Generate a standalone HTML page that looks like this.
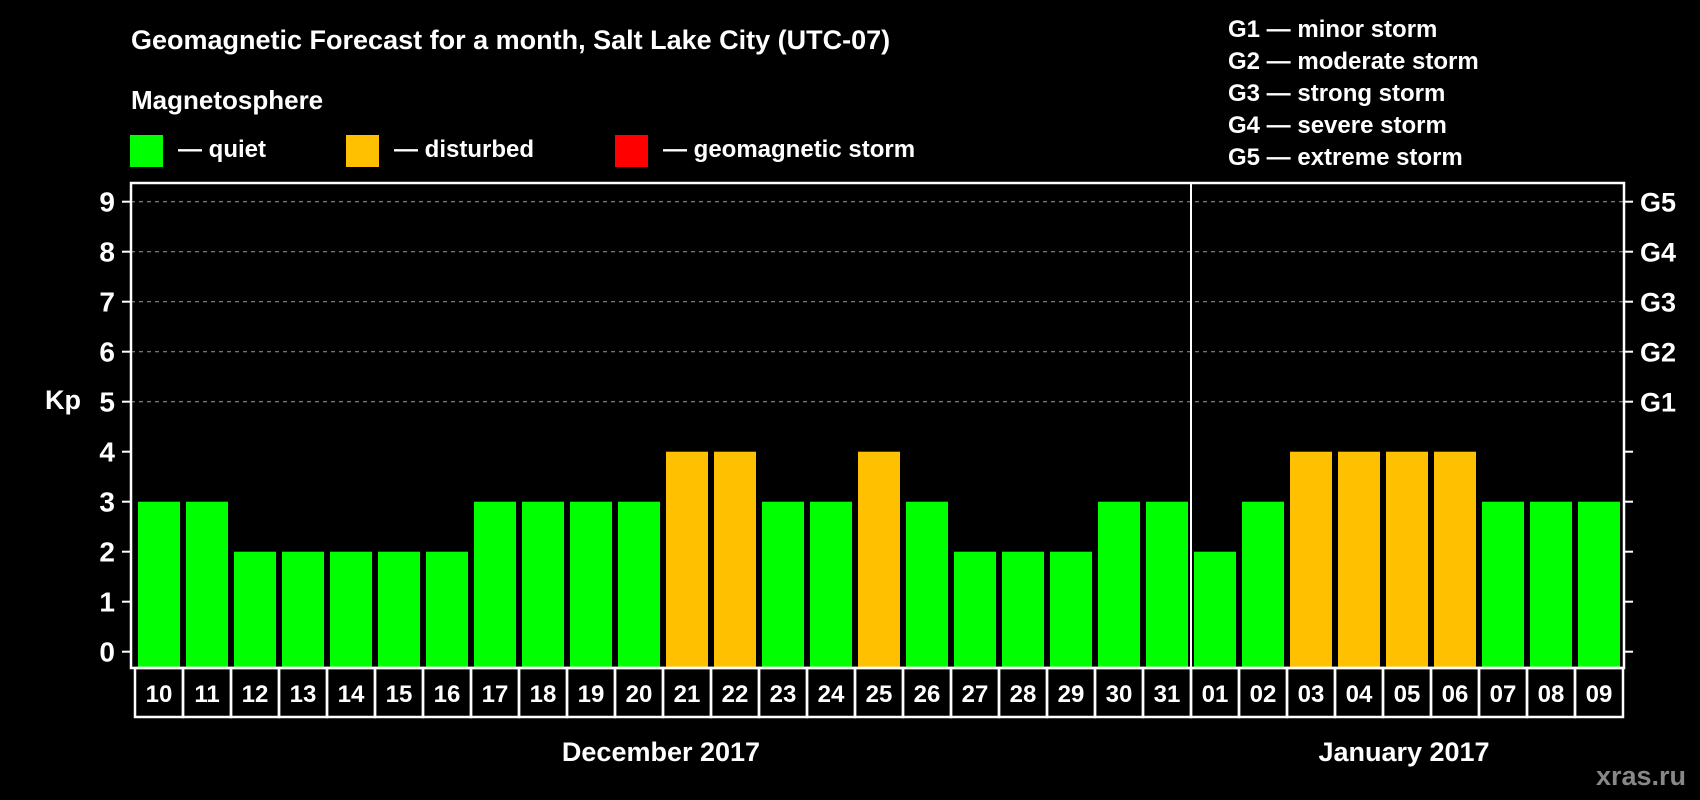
<!DOCTYPE html>
<html><head><meta charset="utf-8"><style>
html,body{margin:0;padding:0;background:#000;}
svg{display:block;font-family:"Liberation Sans",Arial,sans-serif;font-weight:bold;}
</style></head><body>
<svg id="chart" width="1700" height="800" viewBox="0 0 1700 800" xmlns="http://www.w3.org/2000/svg">
<rect width="1700" height="800" fill="#000"/>
<text x="131" y="49" fill="#fff" font-size="27">Geomagnetic Forecast for a month, Salt Lake City (UTC-07)</text>
<text x="131" y="109" fill="#fff" font-size="26">Magnetosphere</text>
<g>
<rect x="130" y="135" width="33" height="32" fill="#00ff00"/>
<text x="178" y="157" fill="#fff" font-size="24">— quiet</text></g>
<g>
<rect x="346" y="135" width="33" height="32" fill="#ffc000"/>
<text x="394" y="157" fill="#fff" font-size="24">— disturbed</text></g>
<g>
<rect x="615" y="135" width="33" height="32" fill="#ff0000"/>
<text x="663" y="157" fill="#fff" font-size="24">— geomagnetic storm</text></g>
<g fill="#fff" font-size="24">
<text x="1228" y="37">G1 — minor storm</text>
<text x="1228" y="69">G2 — moderate storm</text>
<text x="1228" y="101">G3 — strong storm</text>
<text x="1228" y="133">G4 — severe storm</text>
<text x="1228" y="165">G5 — extreme storm</text>
</g>
<text x="63" y="409" fill="#fff" font-size="27" text-anchor="middle">Kp</text>
<g id="grid"></g><g id="bars"></g><g id="axes"></g><g id="dates"></g>
<text x="661" y="761" fill="#fff" font-size="27" text-anchor="middle">December 2017</text>
<text x="1404" y="761" fill="#fff" font-size="27" text-anchor="middle">January 2017</text>
<text x="1686" y="785" fill="#888" font-size="27" text-anchor="end">xras.ru</text>
</svg>
<script>
const days = ["10","11","12","13","14","15","16","17","18","19","20","21","22","23","24","25","26","27","28","29","30","31","01","02","03","04","05","06","07","08","09"];
const kp = [3,3,2,2,2,2,2,3,3,3,3,4,4,3,3,4,3,2,2,2,3,3,2,3,4,4,4,4,3,3,3];
const yTicks = [0,1,2,3,4,5,6,7,8,9];
const gLabels = ["G1","G2","G3","G4","G5"];
const gLevels = [5,6,7,8,9];
const NS="http://www.w3.org/2000/svg";
const plotL=131, plotR=1624, plotT=183, plotB=668;
const y0=651.7, unit=50;
const x0=159, pitch=48, bw=42;
function yScale(v){return y0 - v*unit;}
function xScale(i){return x0 + i*pitch;}
function mk(tag,attrs,parent){const e=document.createElementNS(NS,tag);for(const k in attrs)e.setAttribute(k,attrs[k]);parent.appendChild(e);return e;}
const grid=document.getElementById('grid'),bars=document.getElementById('bars'),axes=document.getElementById('axes'),dates=document.getElementById('dates');
gLevels.forEach((v,i)=>{
  const l=mk('line',{x1:plotL,x2:plotR,y1:yScale(v),y2:yScale(v),stroke:'#999','stroke-width':1,'stroke-dasharray':'4,4'},grid);
  
  
  const t=mk('text',{x:1640,y:yScale(v)+10,fill:'#fff','font-size':27},axes);
  t.textContent=gLabels[i];
  
  
});
kp.forEach((v,i)=>{
  const c=v>=5?'#ff0000':(v>=4?'#ffc000':'#00ff00');
  const r=mk('rect',{x:xScale(i)-bw/2,y:yScale(v),width:bw,height:plotB-yScale(v),fill:c},bars);
  
  
});
const frame=mk('rect',{x:plotL,y:plotT,width:plotR-plotL,height:plotB-plotT,fill:'none',stroke:'#fff','stroke-width':2.5},axes);


const sep=mk('line',{x1:xScale(21)+pitch/2,x2:xScale(21)+pitch/2,y1:plotT,y2:plotB,stroke:'#fff','stroke-width':2},axes);


yTicks.forEach(v=>{
  mk('line',{x1:plotL-9,x2:plotL,y1:yScale(v),y2:yScale(v),stroke:'#fff','stroke-width':2},axes);
  mk('line',{x1:plotR,x2:plotR+9,y1:yScale(v),y2:yScale(v),stroke:'#fff','stroke-width':2},axes);
  const t=mk('text',{x:115,y:yScale(v)+10,fill:'#fff','font-size':28,'text-anchor':'end'},axes);
  t.textContent=v;
  
  
});
days.forEach((d,i)=>{
  const r=mk('rect',{x:xScale(i)-pitch/2,y:plotB,width:pitch,height:49,fill:'none',stroke:'#fff','stroke-width':2.5},dates);
  
  
  const t=mk('text',{x:xScale(i),y:plotB+34,fill:'#fff','font-size':24,'text-anchor':'middle'},dates);
  t.textContent=d;
  
  
});
</script>
</body></html>
